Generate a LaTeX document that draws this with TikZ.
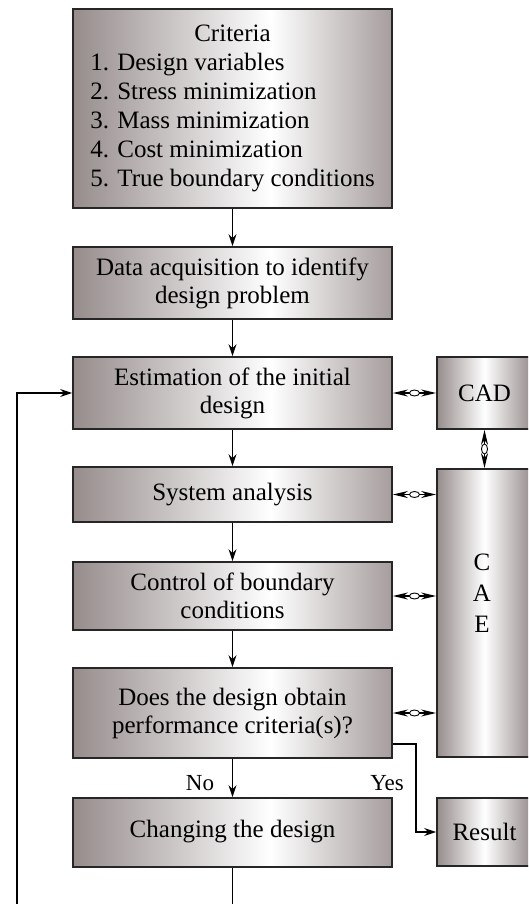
\documentclass[tikz,border=0pt]{standalone}
\usepackage{fontspec}
\setmainfont{Liberation Serif}
\usetikzlibrary{arrows.meta,calc,shapes.geometric}
\definecolor{boxgray}{RGB}{150,140,140}
\definecolor{boxgrayr}{RGB}{166,157,157}
\pgfdeclarehorizontalshading{leftshade}{100bp}{color(0bp)=(boxgray); color(25bp)=(boxgray); color(56bp)=(white); color(75bp)=(boxgrayr); color(100bp)=(boxgrayr)}
\pgfdeclarehorizontalshading{rightshade}{100bp}{color(0bp)=(boxgray); color(25bp)=(boxgray); color(50bp)=(white); color(75bp)=(boxgray); color(100bp)=(boxgray)}
\tikzset{
	stepbox/.style={draw=black!85, line width=1.8pt, shading=leftshade, minimum width=319pt, inner sep=0pt, align=center, font=\fontsize{25}{28}\selectfont},
	toolbox/.style={draw=black!85, line width=1.8pt, shading=rightshade, minimum width=95pt, inner sep=0pt, align=center, font=\fontsize{25}{28}\selectfont},
	flow/.style={line width=1.6pt, -{Stealth[length=12pt,width=8pt]}},
	link/.style={line width=1.6pt, {Stealth[length=15pt,width=7pt]}-{Stealth[length=15pt,width=7pt]}},
	linkdot/.style={ellipse, draw, fill=white, line width=0.9pt, minimum width=10pt, minimum height=6pt, inner sep=0pt},
	answer/.style={font=\fontsize{23}{26}\selectfont, inner sep=0pt}
}
\begin{document}
\begin{tikzpicture}[x=1pt,y=-1pt]
	%%%%% START %%%%%
	\clip (0,0) rectangle (528,904);
	\fill[white] (0,0) rectangle (528,904);
	
	% main column
	\node[stepbox, minimum height=199pt, font=\fontsize{25}{29}\selectfont] (crit) at (232.5,108.5) {\begin{tabular}{@{}l@{}}\multicolumn{1}{@{}c@{}}{Criteria}\\1. Design variables\\2. Stress minimization\\3. Mass minimization\\4. Cost minimization\\5. True boundary conditions\end{tabular}};
	\node[stepbox, minimum height=72pt] (data) at (232.5,283) {Data acquisition to identify\\design problem};
	\node[stepbox, minimum height=72pt] (est) at (232.5,393) {Estimation of the initial\\design};
	\node[stepbox, minimum height=55pt] (sys) at (232.5,494.5) {System analysis};
	\node[stepbox, minimum height=68pt] (ctrl) at (232.5,596) {Control of boundary\\conditions};
	\node[stepbox, minimum height=90pt] (does) at (232.5,713) {Does the design obtain\\performance criteria(s)?};
	\node[stepbox, minimum height=69pt] (change) at (232.5,832.5) {\raisebox{7pt}{Changing the design}};
	
	% tools
	\node[toolbox, minimum height=72pt] (cad) at (484.5,393) {CAD};
	\node[toolbox, minimum height=288pt] (cae) at (484.5,613) {};
	\node[font=\fontsize{25}{31}\selectfont, align=center] (caetext) at (482,593) {C\\A\\E};
	\node[toolbox, minimum height=68pt] (result) at (484.5,832) {Result};
	
	\draw[flow] (crit) -- (data);
	\draw[flow] (data) -- (est);
	\draw[flow] (est) -- (sys);
	\draw[flow] (sys) -- (ctrl);
	\draw[flow] (ctrl) -- (does);
	\draw[flow] (does) -- (change);
	
	\node[answer] (no) at (200,783) {No};
	\node[answer] (yes) at (387,783) {Yes};
	
	% yes branch
	\coordinate (yescorner) at ($(does.south east)+(23,-15)$);
	\draw[flow] ($(does.south east)+(0,-15)$) -- (yescorner) |- (result.west);
	
	% loop back
	\coordinate (loopend) at (17,915);
	\draw[flow] (change.south) |- (loopend) |- (est.west);
	
	% links to CAD / CAE
	\draw[link] (est.east) -- (cad.west) node[linkdot, midway] (d1) {};
	\draw[link] (cad.south) -- (cae.north) node[linkdot, midway, rotate=90] (d2) {};
	\draw[link] (sys.east) -- (sys.east -| cae.west) node[linkdot, midway] (d3) {};
	\draw[link] (ctrl.east) -- (ctrl.east -| cae.west) node[linkdot, midway] (d4) {};
	\draw[link] (does.east) -- (does.east -| cae.west) node[linkdot, midway] (d5) {};
	%%%%% END %%%%%
\end{tikzpicture}
\end{document}
